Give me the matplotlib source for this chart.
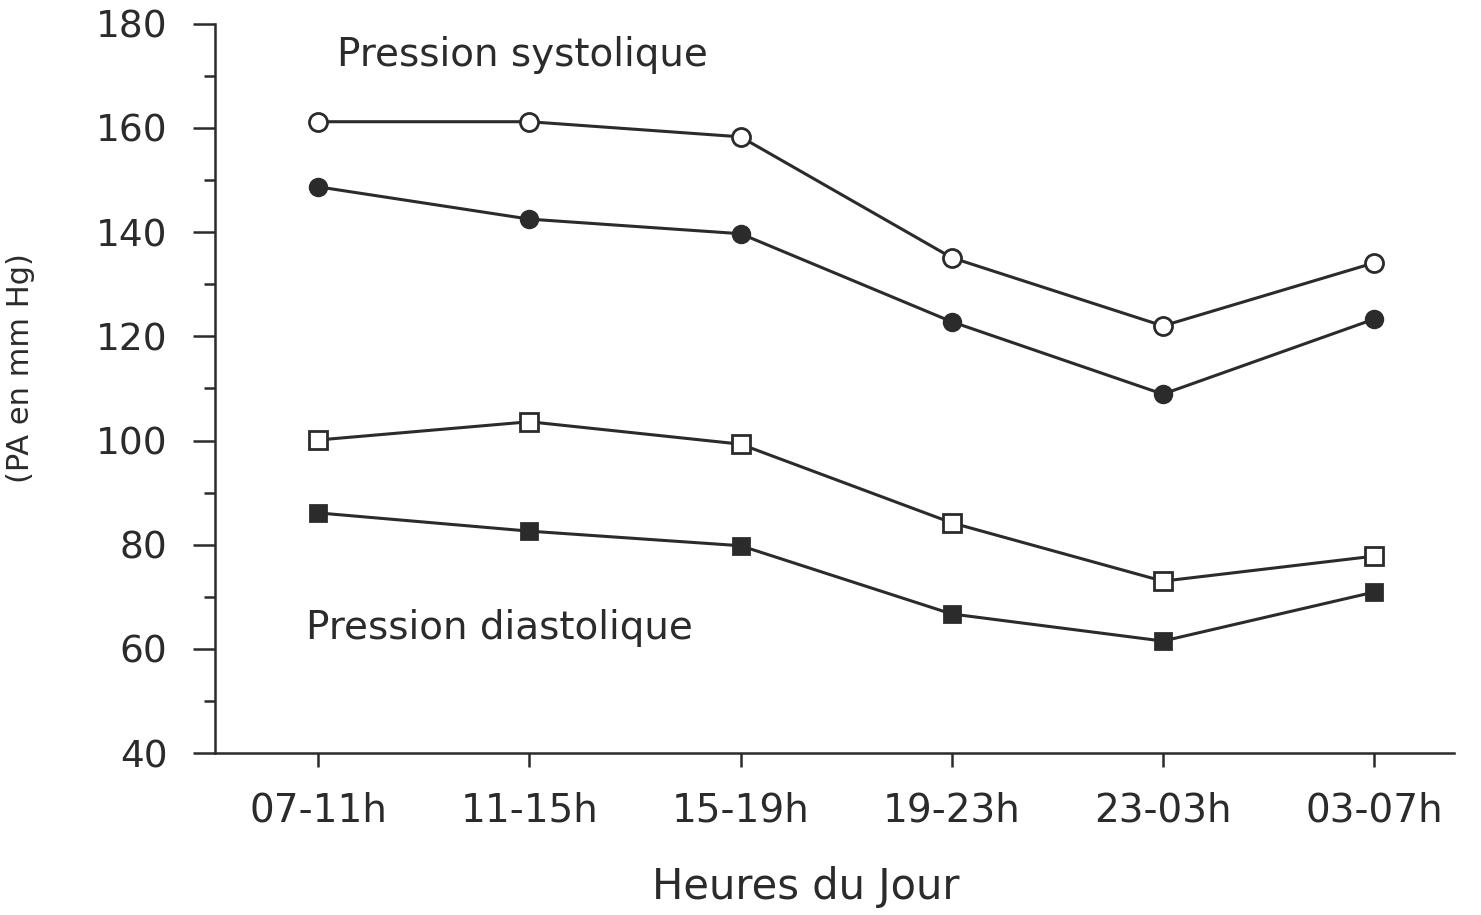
import numpy as np
import matplotlib.pyplot as plt

# data
periodes = ['07-11h', '11-15h', '15-19h', '19-23h', '23-03h', '03-07h']
sys_ouvert = [161.2, 161.2, 158.3, 135.1, 122.0, 134.1]
sys_plein = [148.7, 142.5, 139.7, 122.8, 108.9, 123.3]
dia_ouvert = [100.1, 103.6, 99.3, 84.2, 73.0, 77.8]
dia_plein = [86.1, 82.6, 79.8, 66.7, 61.5, 70.9]

plt.rcParams['font.family'] = ['DejaVu Sans']
col = '#2b2b2b'

fig = plt.figure(figsize=(14.81, 9.15), dpi=100)
ax = fig.add_axes([0.145, 0.177, 0.837, 0.797])
x = np.arange(len(periodes))

ax.plot(x, sys_ouvert, color=col, lw=2.2, marker='o', ms=13, mfc='white', mec=col, mew=2)
ax.plot(x, sys_plein, color=col, lw=2.2, marker='o', ms=12, mfc=col, mec=col, mew=2)
ax.plot(x, dia_ouvert, color=col, lw=2.2, marker='s', ms=13, mfc='white', mec=col, mew=2)
ax.plot(x, dia_plein, color=col, lw=2.2, marker='s', ms=12, mfc=col, mec=col, mew=2)

ax.set_xlim(-0.49, 5.38)
ax.set_ylim(40, 180)
ax.set_yticks(np.arange(40, 181, 20))
ax.set_yticks(np.arange(50, 180, 20), minor=True)
ax.set_xticks(x)
ax.set_xticklabels(periodes)

for s in ['top', 'right']:
    ax.spines[s].set_visible(False)
for s in ['left', 'bottom']:
    ax.spines[s].set_linewidth(1.8)
    ax.spines[s].set_color(col)

ax.tick_params(axis='y', which='major', length=16, width=1.8, color=col, labelsize=27,
               labelcolor=col, pad=18)
ax.tick_params(axis='y', which='minor', length=8, width=1.8, color=col)
ax.tick_params(axis='x', which='major', length=10, width=1.8, color=col, labelsize=28,
               labelcolor=col, pad=18)

ax.text(0.09, 174, 'Pression systolique', fontsize=28, color=col, va='center')
ax.text(-0.06, 64, 'Pression diastolique', fontsize=28, color=col, va='center')

ax.set_xlabel('Heures du Jour', fontsize=30, color=col)
ax.xaxis.set_label_coords(0.477, -0.155)
fig.text(6 / 1481, 1 - 368 / 915, '(PA en mm Hg)', rotation=90, ha='left', va='center',
         fontsize=22, color=col)

plt.savefig('out.png', dpi=100)
